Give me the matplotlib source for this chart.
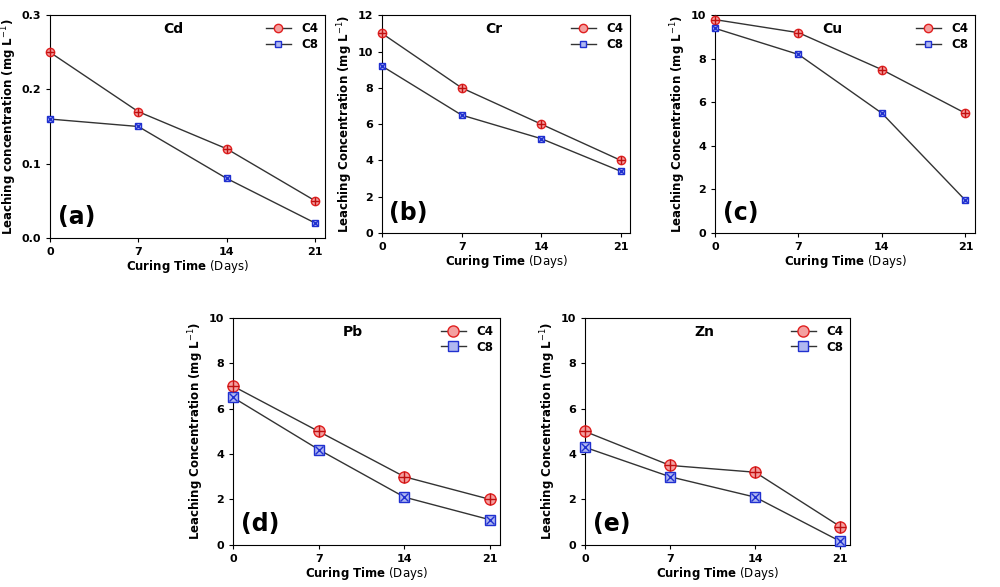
import matplotlib.pyplot as plt

days = [0, 7, 14, 21]
metals = ["Cd", "Cr", "Cu", "Pb", "Zn"]
letters = ["(a)", "(b)", "(c)", "(d)", "(e)"]
c4 = {
    "Cd": [0.25, 0.17, 0.12, 0.05],
    "Cr": [11.0, 8.0, 6.0, 4.0],
    "Cu": [9.8, 9.2, 7.5, 5.5],
    "Pb": [7.0, 5.0, 3.0, 2.0],
    "Zn": [5.0, 3.5, 3.2, 0.8],
}
c8 = {
    "Cd": [0.16, 0.15, 0.08, 0.02],
    "Cr": [9.2, 6.5, 5.2, 3.4],
    "Cu": [9.4, 8.2, 5.5, 1.5],
    "Pb": [6.5, 4.2, 2.1, 1.1],
    "Zn": [4.3, 3.0, 2.1, 0.15],
}
ylims = {"Cd": (0, 0.3, 0.1), "Cr": (0, 12, 2), "Cu": (0, 10, 2), "Pb": (0, 10, 2), "Zn": (0, 10, 2)}

rects = [
    [0.05, 0.595, 0.275, 0.379],
    [0.382, 0.603, 0.248, 0.371],
    [0.715, 0.603, 0.26, 0.371],
    [0.233, 0.072, 0.267, 0.386],
    [0.585, 0.072, 0.265, 0.386],
]

fig = plt.figure(figsize=(10, 5.87), dpi=100)
for i, m in enumerate(metals):
    ax = fig.add_axes(rects[i])
    big = i >= 3
    ms = 8 if big else 6
    ax.plot(days, c4[m], color="#333333", lw=1, marker="o", ms=ms,
            mfc="#f4a0a0", mec="#e02020", label="C4", clip_on=False, zorder=3)
    ax.plot(days, c4[m], ls="none", marker="+", ms=ms, mec="#c01010", mew=1, clip_on=False, zorder=4)
    ax.plot(days, c8[m], color="#333333", lw=1, marker="s", ms=ms - 1,
            mfc="#b0b8f0", mec="#2030d0", label="C8", clip_on=False, zorder=3)
    ax.plot(days, c8[m], ls="none", marker="x", ms=ms - 2, mec="#2030d0", mew=1, clip_on=False, zorder=4)
    lo, hi, step = ylims[m]
    ax.set_ylim(lo, hi)
    ax.set_yticks([lo + k * step for k in range(int(round((hi - lo) / step)) + 1)])
    ax.set_xlim(0, 21.8)
    ax.set_xticks(days)
    ax.tick_params(labelsize=8, direction="out", length=3)
    for t in ax.get_xticklabels() + ax.get_yticklabels():
        t.set_fontweight("bold")
    yl = "Leaching concentration" if m == "Cd" else "Leaching Concentration"
    ax.set_ylabel(yl + r" (mg L$^{-1}$)", fontsize=8.5, fontweight="bold", labelpad=2)
    ax.set_xlabel(r"$\bf{Curing\ Time}$ (Days)", fontsize=8.5, labelpad=1)
    ax.text(0.45, 0.92, m, transform=ax.transAxes, fontsize=10, fontweight="bold", ha="center")
    ax.text(0.03, 0.06, letters[i], transform=ax.transAxes, fontsize=17, fontweight="bold")
    from matplotlib.lines import Line2D
    h = [Line2D([], [], color="#333333", lw=1, marker="o", ms=ms, mfc="#f4a0a0", mec="#e02020"),
         Line2D([], [], color="#333333", lw=1, marker="s", ms=ms - 1, mfc="#b0b8f0", mec="#2030d0")]
    leg = ax.legend(h, ["C4", "C8"], loc="upper right", frameon=False, fontsize=8.5,
                    handlelength=2.2, borderaxespad=0.2, labelspacing=0.2,
                    prop={"weight": "bold", "size": 8.5})

fig.savefig("out.png", dpi=100)
